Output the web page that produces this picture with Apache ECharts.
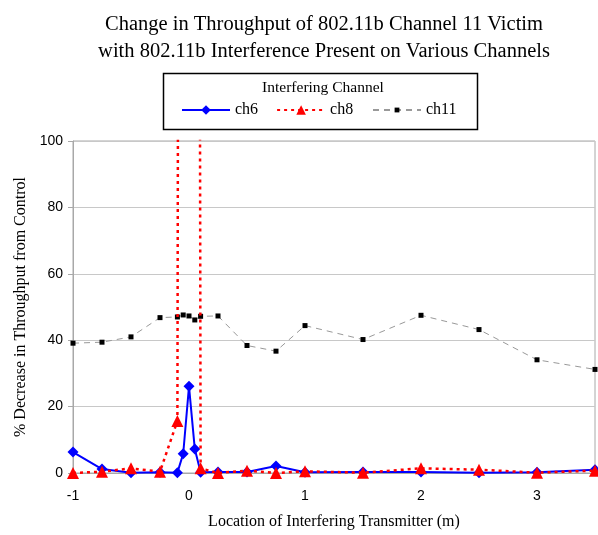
<!DOCTYPE html>
<html><head><meta charset="utf-8">
<script src="https://cdn.jsdelivr.net/npm/echarts@6/dist/echarts.min.js"></script>
<style>html,body{margin:0;padding:0;background:#fff}#c{width:598px;height:535px}</style>
</head><body><div id="c"></div>
<script>
const xValues = [-1, -0.75, -0.5, -0.25, -0.1, -0.05, 0, 0.05, 0.1, 0.25, 0.5, 0.75, 1, 1.5, 2, 2.5, 3, 3.5];
const ch6 = [6.3, 1.2, 0.1, 0.2, 0.1, 5.8, 26.1, 7.2, 0.2, 0.3, 0.3, 2.1, 0.2, 0.3, 0.3, 0.1, 0.2, 1.0];
const ch8 = [0.0, 0.4, 1.4, 0.4, 15.7, 1000, 1000, 1000, 1.4, 0.0, 0.7, 0.0, 0.5, 0.1, 1.4, 1.0, 0.1, 0.7];
const ch11 = [39.1, 39.4, 41.0, 46.8, 47.0, 47.6, 47.3, 46.1, 47.2, 47.3, 38.4, 36.7, 44.4, 40.2, 47.5, 43.2, 34.1, 31.2];
const yTicks = [0, 20, 40, 60, 80, 100];
const xTicks = [-1, 0, 1, 2, 3];
const titleText = 'Change in Throughput of 802.11b Channel 11 Victim\nwith 802.11b Interference Present on Various Channels';
const legendTitle = 'Interfering Channel';
const seriesNames = ['ch6', 'ch8', 'ch11'];

const pair = arr => xValues.map((x, i) => [x, arr[i]]);
const serif = '"Liberation Serif", "Times New Roman", serif';
const sans = '"Liberation Sans", Arial, sans-serif';
const legendText = {fontFamily: serif, fontSize: 16, color: '#000'};

const chart = echarts.init(document.getElementById('c'), null, {renderer: 'canvas'});
chart.setOption({
  animation: false,
  backgroundColor: '#fff',
  title: [{
    text: titleText,
    left: 319, top: 6, textAlign: 'center',
    textStyle: {fontFamily: serif, fontSize: 20.5, fontWeight: 'normal', color: '#000', lineHeight: 27}
  }, {
    text: legendTitle,
    left: 318, top: 75, textAlign: 'center',
    textStyle: {fontFamily: serif, fontSize: 15.5, fontWeight: 'normal', color: '#000'}
  }],
  graphic: [{
    type: 'rect', left: 161, top: 71, z: 10,
    shape: {width: 314, height: 56},
    style: {fill: 'none', stroke: '#000', lineWidth: 1.5}
  }],
  legend: [{
    data: ['ch6', 'ch8'],
    left: 181, top: 102, padding: 0,
    itemWidth: 48, itemHeight: 12, itemGap: 18,
    textStyle: legendText
  }, {
    data: ['ch11'],
    left: 372, top: 102, padding: 0,
    itemWidth: 48, itemHeight: 6,
    textStyle: legendText
  }],
  grid: {left: 73, right: 2.5, top: 141, bottom: 56, show: true, borderColor: '#a8a8a8', borderWidth: 1},
  xAxis: {
    type: 'value', min: -1, max: 3.5, interval: 1,
    name: 'Location of Interfering Transmitter (m)', nameLocation: 'middle', nameGap: 41,
    nameTextStyle: {fontFamily: serif, fontSize: 16, color: '#000'},
    axisLine: {show: true, onZero: false, lineStyle: {color: '#a8a8a8'}},
    axisTick: {show: false},
    splitLine: {show: false},
    axisLabel: {fontFamily: sans, fontSize: 14, color: '#000', margin: 16,
      formatter: v => xTicks.includes(v) ? String(v) : ''}
  },
  yAxis: {
    type: 'value', min: 0, max: 100, interval: 20,
    name: '% Decrease in Throughput from Control', nameLocation: 'middle', nameGap: 44,
    nameTextStyle: {fontFamily: serif, fontSize: 16, color: '#000'},
    axisLine: {show: true, onZero: false, lineStyle: {color: '#a8a8a8'}},
    axisTick: {show: true, length: 5, lineStyle: {color: '#a8a8a8'}},
    splitLine: {show: true, lineStyle: {color: '#c8c8c8'}},
    axisLabel: {fontFamily: sans, fontSize: 14, color: '#000', margin: 10,
      formatter: v => yTicks.includes(v) ? String(v) : ''}
  },
  series: [{
    name: 'ch6', type: 'line', data: pair(ch6), clip: true, z: 3,
    symbol: 'diamond', symbolSize: 11,
    lineStyle: {color: '#0000ff', width: 2},
    itemStyle: {color: '#0000ff'}
  }, {
    name: 'ch8', type: 'line', data: pair(ch8), clip: true, z: 4,
    symbol: 'triangle', symbolSize: 12,
    lineStyle: {color: '#ff0000', width: 2.5, type: [3, 4]},
    itemStyle: {color: '#ff0000'}
  }, {
    name: 'ch11', type: 'line', data: pair(ch11), clip: true, z: 2,
    symbol: 'rect', symbolSize: 5,
    lineStyle: {color: '#999999', width: 1, type: [6, 5]},
    itemStyle: {color: '#000'}
  }]
});
</script>
</body></html>
